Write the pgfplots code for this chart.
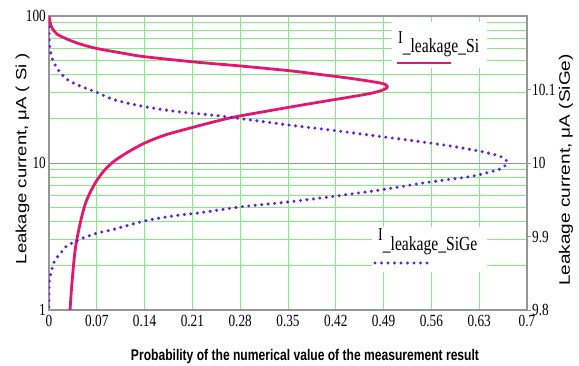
\documentclass[border=0pt]{standalone}
\usepackage{pgfplots}
\pgfplotsset{compat=1.18}
\usepackage{fontspec}
\setmainfont{Liberation Serif}
\newfontfamily\tickfont[FakeStretch=0.78]{Liberation Serif}
\newfontfamily\labfont[FakeStretch=0.78]{Liberation Sans}
\newfontfamily\ylabfont{Liberation Sans}
\definecolor{sipink}{RGB}{228,22,112}
\definecolor{sigepurple}{RGB}{100,30,220}
\definecolor{gridgreen}{RGB}{130,238,130}
\definecolor{framegray}{RGB}{150,150,150}
\begin{document}
\begin{tikzpicture}
\useasboundingbox (-49pt,-55pt) rectangle (530pt,310pt);
\begin{axis}[
  name=main, at={(0pt,0pt)}, anchor=south west,
  scale only axis, width=478pt, height=294pt,
  xmin=0, xmax=0.7, ymode=log, ymin=1, ymax=100,
  xtick={0,0.07,0.14,0.21,0.28,0.35,0.42,0.49,0.56,0.63,0.7},
  xticklabels={0,0.07,0.14,0.21,0.28,0.35,0.42,0.49,0.56,0.63,0.7},
  ytick={1,10,100}, yticklabels={1,10,100},
  minor ytick={2,3,4,5,6,7,8,9,20,30,40,50,60,70,80,90},
  xmajorgrids, ymajorgrids, yminorgrids,
  major x grid style={gridgreen, line width=0.9pt},
  minor y grid style={gridgreen, line width=0.9pt},
  major y grid style={framegray, line width=1pt},
  axis line style={framegray, line width=1.2pt},
  major tick length=0pt, minor tick length=0pt,
  ticklabel style={font=\tickfont\fontsize{17}{17}\selectfont},
  xticklabel style={inner sep=1pt, yshift=-4pt},
  yticklabel style={inner sep=1pt, xshift=-2pt},
  xlabel={Probability of the numerical value of the measurement result},
  xlabel style={font=\labfont\bfseries\fontsize{15.5}{16}\selectfont, at={(axis description cs:0.5,0)}, anchor=center, yshift=-46pt, xshift=17pt},
  ylabel={Leakage current, μA ( Si )},
  ylabel style={font=\ylabfont\fontsize{18.5}{19}\selectfont, at={(axis description cs:-0.0554,0.515)}, anchor=center, yscale=0.8},
]
\fill[white] (rel axis cs:0.7176,0.8231) rectangle (rel axis cs:0.9163,0.9796);
\fill[white] (rel axis cs:0.6757,0.1293) rectangle (rel axis cs:0.9163,0.2823);
\node[anchor=base west, inner sep=0pt, font=\tickfont] at (rel axis cs:0.7301,0.9048)
  {\fontsize{18}{18}\selectfont I\raisebox{-8.5pt}{\fontsize{20}{20}\selectfont\_leakage\_Si}};
\draw[sipink, line width=2.8pt] (rel axis cs:0.728,0.8401) -- (rel axis cs:0.841,0.8401);
\node[anchor=base west, inner sep=0pt, font=\tickfont] at (rel axis cs:0.6883,0.238)
  {\fontsize{18}{18}\selectfont I\raisebox{-10pt}{\fontsize{20}{20}\selectfont\_leakage\_SiGe}};
\draw[sigepurple, line width=3.4pt, line cap=round, dash pattern=on 0pt off 6.5pt] (rel axis cs:0.682,0.16) -- (rel axis cs:0.797,0.16);
\addplot[sipink, line width=2.8pt, smooth, tension=0.5] coordinates {
(0,100) (0.0015,91.0) (0.0044,82.9) (0.0117,75.4) (0.0259,69.8) (0.0454,64.5)
(0.0699,60.1) (0.104,56.3) (0.138,53.0) (0.2084,48.9) (0.2782,45.8) (0.3529,42.4)
(0.3969,40.0) (0.4408,37.7) (0.473,35.8) (0.4906,34.5) (0.4954,33.0)
(0.4906,31.6) (0.473,29.9) (0.4408,28.1) (0.3969,26.0) (0.3529,24.0)
(0.2797,20.9) (0.2479,19.4) (0.209,17.4) (0.1699,15.5) (0.1406,13.7)
(0.1161,11.9) (0.0942,10.2) (0.0795,8.73) (0.0674,7.28) (0.0552,5.60)
(0.0479,4.31) (0.0406,2.99) (0.0371,2.30) (0.0332,1.44) (0.0308,1.0)
};
\end{axis}
\begin{axis}[
  at={(0pt,0pt)}, anchor=south west,
  scale only axis, width=478pt, height=294pt,
  xmin=0, xmax=0.7, ymin=9.8, ymax=10.2,
  axis y line*=right, axis x line=none,
  ytick={9.8,9.9,10,10.1}, yticklabels={9.8,9.9,10,10.1},
  axis line style={framegray, line width=1.2pt},
  major tick length=4pt, tick align=outside,
  tick style={framegray, line width=0.8pt},
  ticklabel style={font=\tickfont\fontsize{17}{17}\selectfont},
  yticklabel style={inner sep=1pt},
  ylabel={Leakage current, μA (SiGe)},
  ylabel style={font=\ylabfont\fontsize{19}{19}\selectfont, at={(axis description cs:1.0816,0.476)}, anchor=center, yscale=0.8},
]
\addplot[sigepurple, line width=3.4pt, line cap=round, dash pattern=on 0pt off 6.5pt, smooth, tension=0.5] coordinates {
(0,10.185) (0.0005,10.163) (0.004,10.144) (0.0117,10.129) (0.026,10.114)
(0.045,10.105) (0.07,10.096) (0.0967,10.0857) (0.1406,10.0766) (0.189,10.0698)
(0.238,10.0653) (0.277,10.0608) (0.353,10.0515) (0.411,10.045) (0.49,10.0355)
(0.548,10.0285) (0.592,10.0225) (0.631,10.016) (0.661,10.009) (0.671,10.001)
(0.663,9.9928) (0.641,9.9866) (0.616,9.9814) (0.577,9.9766) (0.543,9.9721)
(0.49,9.964) (0.42,9.955) (0.35,9.947) (0.2822,9.9405) (0.2479,9.936)
(0.2186,9.932) (0.1893,9.929) (0.1552,9.924) (0.1308,9.919) (0.1113,9.914)
(0.0918,9.909) (0.0722,9.905) (0.0527,9.899) (0.0356,9.892) (0.0245,9.886)
(0.0161,9.876) (0.0078,9.866) (0.0015,9.845) (0,9.832) (0,9.8)
};
\end{axis}
\end{tikzpicture}
\end{document}
